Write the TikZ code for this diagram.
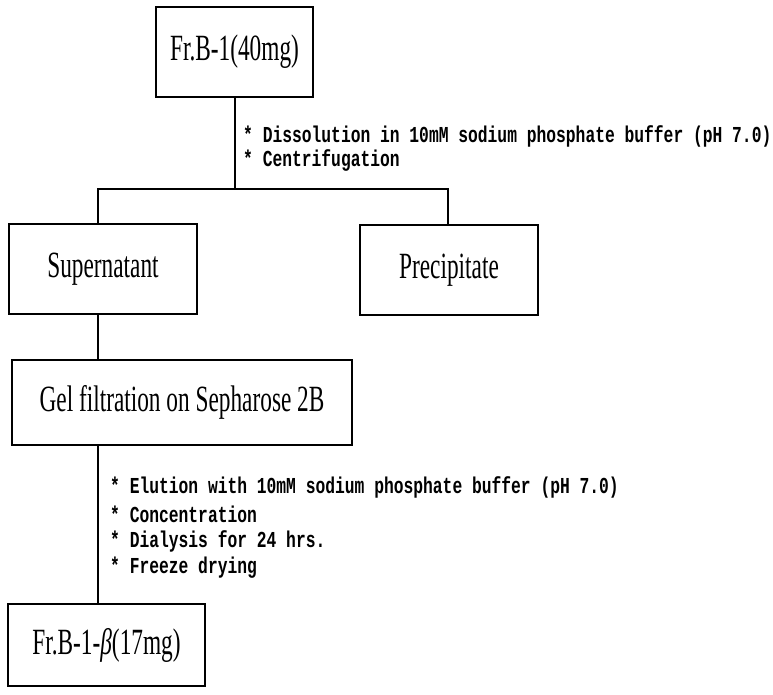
\documentclass[tikz,border=0pt]{standalone}
\usepackage{fontspec}
\setmainfont{Liberation Serif}
\newfontfamily\annfont{Liberation Mono}
\newcommand\boxtxt[1]{\scalebox{0.63}[1]{\fontsize{37}{37}\selectfont #1}}
\newcommand\anntxt[1]{\scalebox{1}[1.4]{\annfont\bfseries\fontsize{16.3}{16.3}\selectfont #1}}
\begin{document}
\begin{tikzpicture}[x=1pt,y=-1pt,
  box/.style={draw, line width=2.2pt, inner sep=0pt},
  conn/.style={line width=2.2pt},
  ann/.style={anchor=west, inner sep=0pt}]
\useasboundingbox (0,0) rectangle (773,695);
% boxes
\node[box, minimum width=157pt, minimum height=90pt] (fr) at (234.5,52) {\boxtxt{Fr.B-1(40mg)}};
\node[box, minimum width=188pt, minimum height=90pt] (sup) at (103,269) {\boxtxt{Supernatant}};
\node[box, minimum width=178pt, minimum height=90pt] (pre) at (449,270) {\boxtxt{Precipitate}};
\node[box, minimum width=340pt, minimum height=85pt] (gel) at (182,402.5) {\boxtxt{Gel filtration on Sepharose 2B}};
\node[box, minimum width=197pt, minimum height=82pt] (fin) at (106.5,645) {\boxtxt{Fr.B-1-\textit{β}(17mg)}};
% junction coordinates
\coordinate (j) at (235,189);
\coordinate (jl) at (98,189);
\coordinate (jr) at (448,189);
% connectors
\draw[conn] (fr.south -| j) -- (j);
\draw[conn] (jl |- sup.north) -- (jl) -- (jr) -- (jr |- pre.north);
\draw[conn] (sup.south -| jl) -- (gel.north -| jl);
\draw[conn] (gel.south -| jl) -- (fin.north -| jl);
% annotations
\node[ann] (a1) at (243,136) {\anntxt{* Dissolution in 10mM sodium phosphate buffer (pH 7.0)}};
\node[ann] (a2) at (243,160) {\anntxt{* Centrifugation}};
\node[ann] (b1) at (110,487) {\anntxt{* Elution with 10mM sodium phosphate buffer (pH 7.0)}};
\node[ann] (b2) at (110,514) {\anntxt{* Concentration}};
\node[ann] (b3) at (110,541) {\anntxt{* Dialysis for 24 hrs.}};
\node[ann] (b4) at (110,568) {\anntxt{* Freeze drying}};
\end{tikzpicture}
\end{document}
